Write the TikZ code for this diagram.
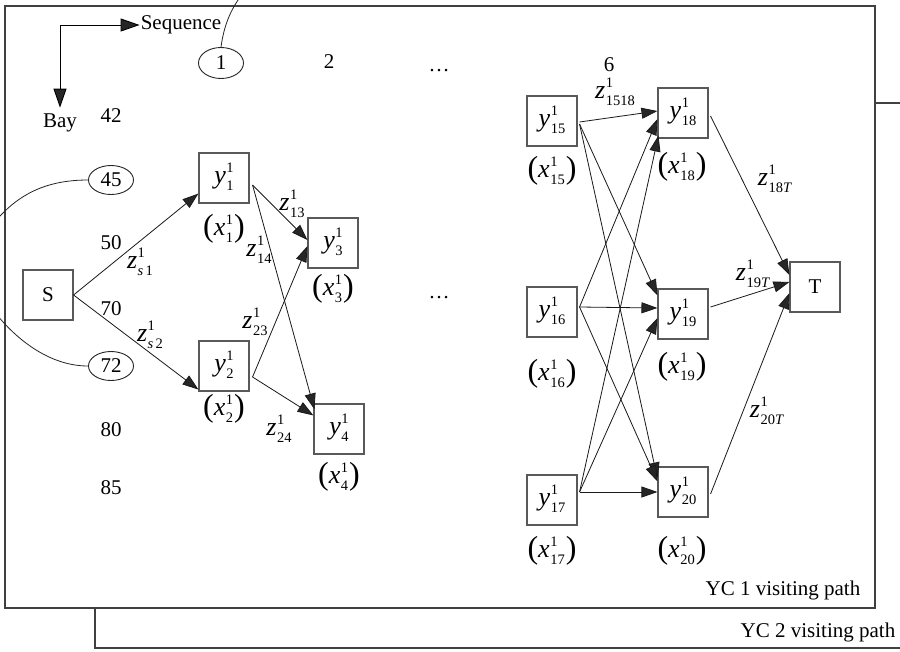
\documentclass[tikz,border=0pt]{standalone}
\usepackage{fontspec}
\setmainfont{Liberation Serif}
\usetikzlibrary{arrows.meta,shapes.geometric,calc}
\newcommand\sv[2]{{\fontsize{26}{26}\selectfont\itshape #1}\kern0.5pt\raisebox{-7pt}{\fontsize{14.5}{17.5}\selectfont\begin{tabular}[b]{@{}l@{}}1\\#2\end{tabular}}}
\newcommand\px[2]{\raisebox{-1.5pt}{\fontsize{32}{32}\selectfont(}\sv{#1}{#2}\kern1pt\raisebox{-1.5pt}{\fontsize{32}{32}\selectfont)}}
\begin{document}
\begin{tikzpicture}[x=1pt,y=-1pt,font=\fontsize{21}{25}\selectfont,
  box/.style={draw=black!65,line width=1.1pt,minimum width=50pt,minimum height=50pt,inner sep=0pt,fill=white},
  oval/.style={ellipse,draw=black!85,line width=0.9pt,minimum width=45pt,minimum height=29pt,inner sep=0pt},
  edge/.style={line width=0.8pt,draw=black!90,-{Triangle[length=16pt,width=11pt,fill=black!85]}},
  axis/.style={line width=0.9pt,{Triangle[length=19pt,width=13pt,fill=black!85]}-{Triangle[length=19pt,width=13pt,fill=black!85]}},
  frame/.style={draw=black!75,line width=1.2pt},
  curve/.style={line width=0.8pt,draw=black!85},
  lbl/.style={inner sep=0pt}]
\useasboundingbox (0,0) rectangle (900,651);
% frames
\draw[frame] (95,103) rectangle (915,648);
\filldraw[frame,fill=white] (5,6) rectangle (875,608);
\node[lbl] (yc1) at (783,590) {YC 1 visiting path};
\node[lbl] (yc2) at (818,632) {YC 2 visiting path};
% axes
\node[lbl] (seq) at (181,25) {Sequence};
\node[lbl] (bay) at (60,123) {Bay};
\draw[axis] ([yshift=6pt]bay.north) |- ([xshift=-1pt]seq.west);
% sequence numbers
\node[oval,minimum height=31pt] (o1) at (221,63) {1};
\node[lbl] (n2) at (329,62) {2};
\node[lbl] (d1) at (439,71) {…};
\node[lbl] (n6) at (609,65) {6};
% bay numbers
\node[lbl] (n42) at (111,116) {42};
\node[oval] (o45) at (111,180) {45};
\node[lbl] (n50) at (111,243) {50};
\node[lbl] (n70) at (111,309) {70};
\node[oval] (o72) at (111,366) {72};
\node[lbl] (n80) at (111,430) {80};
\node[lbl] (n85) at (111,488) {85};
\coordinate (c1) at (244,-8);
\coordinate (c45) at (-10,228);
\coordinate (c72) at (-10,306);
\draw[curve] (o1.north) .. controls (224,25) and (231,8) .. (c1);
\draw[curve] (o45.west) .. controls (45,180) and (15,195) .. (c45);
\draw[curve] (o72.west) .. controls (50,366) and (15,340) .. (c72);
% left nodes
\node[box] (S) at (48,295) {S};
\node[box] (y1) at (224,178) {\sv{y}{1}};
\node[box] (y2) at (224,366) {\sv{y}{2}};
\node[box] (y3) at (333,243) {\sv{y}{3}};
\node[box] (y4) at (339,429) {\sv{y}{4}};
\node[lbl] (x1) at (224,230) {\px{x}{1}};
\node[lbl] (x2) at (224,410) {\px{x}{2}};
\node[lbl] (x3) at (333,290) {\px{x}{3}};
\node[lbl] (x4) at (339,478) {\px{x}{4}};
\node[lbl] (d2) at (439,298) {…};
% right nodes
\node[box] (y15) at (552,121) {\sv{y}{15}};
\node[box] (y16) at (552,312) {\sv{y}{16}};
\node[box] (y17) at (552,500) {\sv{y}{17}};
\node[box] (y18) at (683,113) {\sv{y}{18}};
\node[box] (y19) at (683,314) {\sv{y}{19}};
\node[box] (y20) at (683,492) {\sv{y}{20}};
\node[box] (T) at (815,287) {T};
\node[lbl] (x15) at (552,172) {\px{x}{15}};
\node[lbl] (x16) at (552,375) {\px{x}{16}};
\node[lbl] (x17) at (552,552) {\px{x}{17}};
\node[lbl] (x18) at (682,168) {\px{x}{18}};
\node[lbl] (x19) at (682,368) {\px{x}{19}};
\node[lbl] (x20) at (682,552) {\px{x}{20}};
% edge labels
\node[lbl] (zs1) at (140,263) {\sv{z}{\textit{s}\,1}};
\node[lbl] (zs2) at (150,336) {\sv{z}{\textit{s}\,2}};
\node[lbl] (z13) at (292,205) {\sv{z}{13}};
\node[lbl] (z14) at (259,251) {\sv{z}{14}};
\node[lbl] (z23) at (255,323) {\sv{z}{23}};
\node[lbl] (z24) at (279,430) {\sv{z}{24}};
\node[lbl] (z1518) at (615,93) {\sv{z}{1518}};
\node[lbl] (z18T) at (775,180) {\sv{z}{18\textit{T}}};
\node[lbl] (z19T) at (753,275) {\sv{z}{19\textit{T}}};
\node[lbl] (z20T) at (767,412) {\sv{z}{20\textit{T}}};
% left edges
\draw[edge] (S.east) -- ([yshift=10pt]y1.south west);
\draw[edge] (S.east) -- ([yshift=2pt]y2.south west);
\draw[edge] ([xshift=3pt,yshift=-7pt]y1.east) -- ([yshift=3pt]y3.west);
\draw[edge] ([xshift=3pt,yshift=-7pt]y1.east) -- ([xshift=1pt,yshift=-6pt]y4.north west);
\draw[edge] ([xshift=3pt,yshift=-11pt]y2.east) -- ([yshift=-3pt]y3.west);
\draw[edge] ([xshift=3pt,yshift=-11pt]y2.east) -- ([yshift=-12pt]y4.north west);
% right edges
\draw[edge] ([xshift=2pt,yshift=-1pt]y15.east) -- ([yshift=2pt]y18.west);
\draw[edge] ([xshift=2pt,yshift=-3pt]y15.east) -- ([yshift=-7pt]y19.north west);
\draw[edge] ([xshift=2pt,yshift=-3pt]y15.east) -- ([yshift=-12pt]y20.north west);
\draw[edge] ([xshift=2pt,yshift=5pt]y16.east) -- ([yshift=-6pt]y18.west);
\draw[edge] ([xshift=2pt,yshift=5pt]y16.east) -- ([yshift=6pt]y19.west);
\draw[edge] ([xshift=2pt,yshift=5pt]y16.east) -- ([yshift=-15pt]y20.north west);
\draw[edge] ([xshift=2pt,yshift=8pt]y17.east) -- ([xshift=1pt,yshift=3pt]y18.south west);
\draw[edge] ([xshift=2pt,yshift=8pt]y17.east) -- ([yshift=-4pt]y19.west);
\draw[edge] ([xshift=2pt,yshift=8pt]y17.east) -- (y20.west);
\draw[edge] ([xshift=2pt,yshift=-3pt]y18.east) -- ([yshift=12pt]T.west);
\draw[edge] ([xshift=2pt,yshift=7pt]y19.east) -- ([yshift=5pt]T.west);
\draw[edge] ([xshift=2pt,yshift=-2pt]y20.east) -- ([yshift=-6pt]T.west);
\end{tikzpicture}
\end{document}
